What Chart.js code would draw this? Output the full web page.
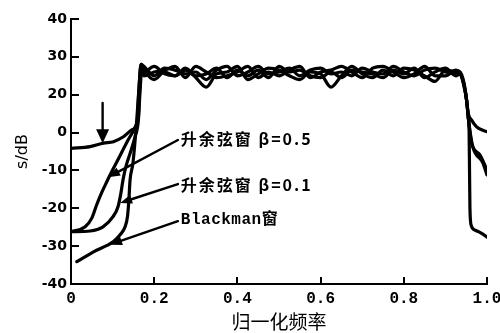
<!DOCTYPE html>
<html><head><meta charset="utf-8">
<script src="https://cdn.jsdelivr.net/npm/chart.js@4.4.1/dist/chart.umd.min.js"></script>
<style>html,body{margin:0;padding:0;background:#fff}canvas{display:block}</style>
</head><body>
<canvas id="c" width="500" height="333"></canvas>
<script>
// ---- tick labels (the printed axis skips "10": 20 and 0 are one step apart) ----
const xTickValues = [0, 0.2, 0.4, 0.6, 0.8, 1.0];
const xTickLabels = ['0', '0.2', '0.4', '0.6', '0.8', '1.0'];
const yTickValues = [40, 30, 20, 0, -10, -20, -30, -40];
const yTickLabels = ['40', '30', '20', '0', '-10', '-20', '-30', '-40'];

// ---- passband sample positions (normalised frequency) ----
const passX = [0.175,0.2,0.225,0.25,0.275,0.3,0.325,0.35,0.375,0.4,0.425,0.45,0.475,0.5,0.525,0.55,
               0.575,0.6,0.625,0.65,0.675,0.7,0.725,0.75,0.775,0.8,0.825,0.85,0.875,0.9,0.925];

// ---- series 1: curve marked by the down arrow (starts near -4 dB) ----
const rectLeft  = [[0,-4.2],[0.046,-3.7],[0.078,-2.8],[0.102,-2.4],[0.126,-1.1],[0.146,1.4],[0.159,5.7],[0.163,21],[0.169,28]];
const rectPass  = [27.5,25,27,26.5,25.5,26,24,26.5,27.5,25,26,27.5,25.5,26,27,25,26.5,27,25.5,26,25,27,26,25.5,27.5,26,25,26.5,27,26,25.5];
const rectRight = [[0.935,26],[0.945,23],[0.951,17],[0.955,10],[0.963,6.6],[0.975,3],[0.99,1.2],[1.0,0.5]];

// ---- series 2: 升余弦窗 β=0.5 ----
const cos05Left  = [[0,-26.2],[0.034,-24.9],[0.05,-22.6],[0.062,-19],[0.074,-15.8],[0.086,-13],[0.098,-10.3],[0.11,-7.8],[0.122,-5.2],[0.135,-2.4],[0.146,-0.3],[0.156,3.5],[0.162,8.4],[0.165,21],[0.169,28]];
const cos05Pass  = [26,27.5,25.5,25,27,24.5,22,25.5,26,27.5,24,25.5,27,26.5,25,24,26,25.5,22,25,27.5,25.5,24.5,26.5,25,27,26.5,25,23.5,26.5,26];
const cos05Right = [[0.935,25.5],[0.945,22.5],[0.951,17],[0.955,8],[0.958,2],[0.963,-2.8],[0.983,-5.9],[1.0,-9.9]];

// ---- series 3: 升余弦窗 β=0.1 ----
const cos01Left  = [[0,-26.2],[0.046,-26],[0.077,-24.9],[0.101,-22.2],[0.113,-19.6],[0.12,-16],[0.125,-12.5],[0.132,-9],[0.142,-5.5],[0.154,-1.1],[0.162,6.6],[0.166,21],[0.171,27.5]];
const cos01Pass  = [25,26,26.5,27.5,24.5,27.5,26,24.5,25,26,27.5,24.5,26,25,26.5,27.5,24.5,26,26.5,27.5,26,24.5,27,27.5,26,24.5,25.5,27.5,25,25,26.5];
const cos01Right = [[0.935,26],[0.945,22],[0.951,17],[0.955,8],[0.959,1],[0.966,-3.8],[0.99,-8],[1.0,-11.2]];

// ---- series 4: Blackman窗 ----
const blackLeft  = [[0.014,-34.1],[0.054,-31.5],[0.102,-28.8],[0.118,-27],[0.13,-24.9],[0.136,-22],[0.139,-18],[0.142,-12.5],[0.149,-8],[0.158,6.6],[0.163,21],[0.168,28]];
const blackPass  = [26.5,24,26,25,26.5,25,25.5,27,24.5,26.5,25,26.5,24.5,27.5,26,26.5,25,24.5,26,24.5,26.5,26,25.5,24.5,26.5,25.5,27,24.5,26,27,25];
const blackRight = [[0.935,25.5],[0.945,22.5],[0.951,17],[0.955,8],[0.957,0],[0.958,-10],[0.959,-20],[0.962,-24.5],[0.972,-25.8],[0.985,-26.5],[1.0,-27.6]];

// ---- annotations (data units) ----
const labelTexts   = ['升余弦窗 β=0.5', '升余弦窗 β=0.1', 'Blackman窗'];
const labelAnchors = [[0.264,-1.7],[0.264,-13.85],[0.264,-23.1]];
const arrowLines   = [
  [[0.257,-1.96],[0.089,-11.8]],
  [[0.257,-13.6],[0.118,-18.6]],
  [[0.257,-23.4],[0.094,-29.6]],
  [[0.076,15.6],[0.076,-2.8]]
];

function build(left, pass, right) {
  const pts = left.map(p => ({x: p[0], y: p[1]}));
  passX.forEach((x, i) => pts.push({x: x, y: pass[i]}));
  right.forEach(p => pts.push({x: p[0], y: p[1]}));
  return pts;
}

// y axis: printed scale where the step 0 -> 20 has the same length as a 10 dB step
const AX_MIN = -40, AX_MAX = 30;
function toAxis(v) { return v <= 0 ? v : (v <= 20 ? v / 2 : v - 10); }
function fromAxis(a) { return a <= 0 ? a : (a <= 10 ? a * 2 : a + 10); }
class BrokenScale extends Chart.LinearScale {
  getPixelForValue(v) { return this.getPixelForDecimal((toAxis(v) - AX_MIN) / (AX_MAX - AX_MIN)); }
  getValueForPixel(p) { return fromAxis(AX_MIN + this.getDecimalForPixel(p) * (AX_MAX - AX_MIN)); }
}
BrokenScale.id = 'broken';
BrokenScale.defaults = Chart.LinearScale.defaults;
Chart.register(BrokenScale);

const labelFonts = [
  'bold 16px "Noto Sans CJK SC"',
  'bold 16px "Noto Sans CJK SC"',
  'bold 16px "Liberation Mono", "Noto Sans CJK SC"'
];

const annotPlugin = {
  id: 'annot',
  afterDatasetsDraw(chart) {
    const {ctx, chartArea: a, scales: {x, y}} = chart;
    ctx.save();
    ctx.strokeStyle = '#000'; ctx.fillStyle = '#000';
    // inward tick marks
    ctx.lineWidth = 2;
    yTickValues.forEach(v => {
      const py = Math.round(y.getPixelForValue(v));
      ctx.beginPath(); ctx.moveTo(a.left, py); ctx.lineTo(a.left + 8, py); ctx.stroke();
    });
    xTickValues.forEach(v => {
      const px = Math.round(x.getPixelForValue(v));
      ctx.beginPath(); ctx.moveTo(px, a.bottom); ctx.lineTo(px, a.bottom - 7); ctx.stroke();
    });
    // arrows
    ctx.lineWidth = 2.4; ctx.lineCap = 'round';
    arrowLines.forEach(([s, t], i) => {
      const x0 = x.getPixelForValue(s[0]), y0 = y.getPixelForValue(s[1]);
      const x1 = x.getPixelForValue(t[0]), y1 = y.getPixelForValue(t[1]);
      const ang = Math.atan2(y1 - y0, x1 - x0);
      const L = i === 3 ? 14 : 12, W = i === 3 ? 6.5 : 4.5;
      const bx = x1 - L * Math.cos(ang), by = y1 - L * Math.sin(ang);
      ctx.beginPath(); ctx.moveTo(x0, y0); ctx.lineTo(bx, by); ctx.stroke();
      ctx.beginPath();
      ctx.moveTo(x1, y1);
      ctx.lineTo(bx + W * Math.sin(ang), by - W * Math.cos(ang));
      ctx.lineTo(bx - W * Math.sin(ang), by + W * Math.cos(ang));
      ctx.closePath(); ctx.fill();
    });
    // labels
    ctx.textBaseline = 'middle'; ctx.textAlign = 'left';
    labelTexts.forEach((t, i) => {
      ctx.font = labelFonts[i];
      if ('letterSpacing' in ctx) ctx.letterSpacing = i < 2 ? '2px' : '0.5px';
      ctx.fillText(t, x.getPixelForValue(labelAnchors[i][0]), y.getPixelForValue(labelAnchors[i][1]));
    });
    if ('letterSpacing' in ctx) ctx.letterSpacing = '0px';
    ctx.restore();
  }
};

const series = [
  build(rectLeft, rectPass, rectRight),
  build(cos05Left, cos05Pass, cos05Right),
  build(cos01Left, cos01Pass, cos01Right),
  build(blackLeft, blackPass, blackRight)
];

new Chart(document.getElementById('c'), {
  type: 'line',
  data: {
    datasets: series.map((d, i) => ({
      label: ['s1', '升余弦窗 β=0.5', '升余弦窗 β=0.1', 'Blackman窗'][i],
      data: d,
      borderColor: '#000',
      borderWidth: 3.2,
      pointRadius: 0,
      fill: false,
      cubicInterpolationMode: 'monotone',
      borderCapStyle: 'round',
      borderJoinStyle: 'round'
    }))
  },
  options: {
    responsive: false,
    animation: false,
    devicePixelRatio: 1,
    layout: {padding: {left: 0, top: 19, right: 13, bottom: 0}},
    plugins: {legend: {display: false}, tooltip: {enabled: false}},
    scales: {
      x: {
        type: 'linear', min: 0, max: 1,
        afterBuildTicks: s => { s.ticks = xTickValues.map(v => ({value: v})); },
        ticks: {
          callback: v => xTickLabels[xTickValues.indexOf(v)],
          color: '#000', font: {family: 'Liberation Mono', weight: 'bold', size: 16},
          padding: 5, maxRotation: 0, autoSkip: false
        },
        grid: {display: false, drawTicks: false},
        border: {display: true, color: '#000', width: 2},
        title: {display: true, text: '归一化频率', color: '#000',
                font: {family: 'Noto Sans CJK SC', size: 19}, padding: {top: 0, bottom: 0}},
        afterFit: s => { s.height = 49; s.paddingLeft = 0; s.paddingRight = 0; }
      },
      y: {
        type: 'broken', min: -40, max: 40,
        afterBuildTicks: s => { s.ticks = yTickValues.map(v => ({value: v})); },
        ticks: {
          callback: v => yTickLabels[yTickValues.indexOf(v)],
          color: '#000', font: {family: 'DejaVu Sans', weight: 'bold', size: 14},
          padding: 4, autoSkip: false
        },
        grid: {display: false, drawTicks: false},
        border: {display: true, color: '#000', width: 2},
        title: {display: true, text: 's/dB', color: '#000',
                font: {family: 'DejaVu Sans', size: 16}, padding: {top: 13, bottom: 0}},
        afterFit: s => { s.width = 71; s.paddingTop = 0; s.paddingBottom = 0; }
      }
    }
  },
  plugins: [annotPlugin]
});
</script>
</body></html>
